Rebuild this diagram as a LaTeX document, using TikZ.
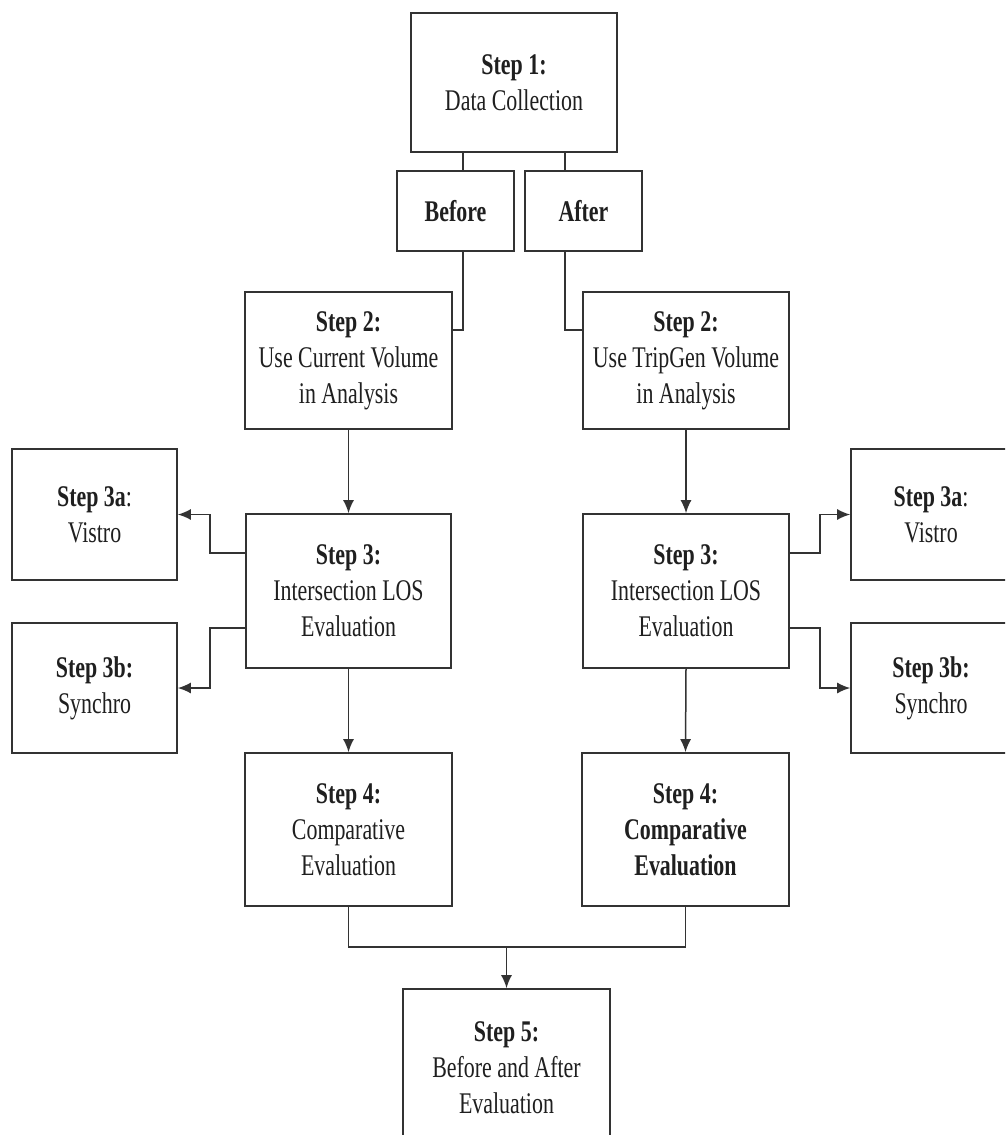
\documentclass[tikz,border=0pt]{standalone}
\usepackage{fontspec}
\setmainfont{Liberation Serif}[FakeStretch=0.73]
\usetikzlibrary{arrows.meta}
\begin{document}
\begin{tikzpicture}[x=1pt,y=-1pt,
  stepbox/.style={draw=black!80, line width=1.7pt, fill=white, inner sep=0pt,
    align=center, text=black!88, font=\fontsize{30}{36}\selectfont},
  conn/.style={draw=black!80, line width=1.5pt},
  arr/.style={conn, -{Latex[length=13pt,width=11pt]}}]
\useasboundingbox (0,0) rectangle (1005,1135);
\clip (0,0) rectangle (1005,1135);
% helper coordinates
\coordinate (xl) at (463,0);
\coordinate (xr) at (565,0);
\coordinate (yk) at (0,330);
\coordinate (jl) at (210,0);
\coordinate (jr) at (820,0);
\coordinate (ya) at (0,553);
\coordinate (yb) at (0,628);
\coordinate (ym) at (0,947);
% nodes
\node[stepbox, minimum width=206pt, minimum height=139pt] (s1) at (514,82.5) {\textbf{Step 1:}\\Data Collection};
\node[stepbox, minimum width=117pt, minimum height=80pt] (before) at (455.5,211) {\textbf{Before}};
\node[stepbox, minimum width=117pt, minimum height=80pt] (after) at (583.5,211) {\textbf{After}};
\node[stepbox, minimum width=207pt, minimum height=137pt] (s2L) at (348.5,360.5) {\textbf{Step 2:}\\Use Current Volume\\in Analysis};
\node[stepbox, minimum width=206pt, minimum height=137pt] (s2R) at (686,360.5) {\textbf{Step 2:}\\Use TripGen Volume\\in Analysis};
\node[stepbox, minimum width=205pt, minimum height=154pt] (s3L) at (348.5,591) {\textbf{Step 3:}\\Intersection LOS\\Evaluation};
\node[stepbox, minimum width=206pt, minimum height=154pt] (s3R) at (686,591) {\textbf{Step 3:}\\Intersection LOS\\Evaluation};
\node[stepbox, minimum width=165pt, minimum height=131pt] (s3aL) at (94.5,514.5) {\textbf{Step 3a}:\\Vistro};
\node[stepbox, minimum width=165pt, minimum height=130pt] (s3bL) at (94.5,688) {\textbf{Step 3b:}\\Synchro};
\node[stepbox, minimum width=160pt, minimum height=131pt] (s3aR) at (931,514.5) {\textbf{Step 3a}:\\Vistro};
\node[stepbox, minimum width=160pt, minimum height=130pt] (s3bR) at (931,688) {\textbf{Step 3b:}\\Synchro};
\node[stepbox, minimum width=207pt, minimum height=153pt] (s4L) at (348.5,829.5) {\textbf{Step 4:}\\Comparative\\Evaluation};
\node[stepbox, minimum width=207pt, minimum height=153pt] (s4R) at (685.5,829.5) {\textbf{Step 4:}\\\textbf{Comparative}\\\textbf{Evaluation}};
\node[stepbox, minimum width=207pt, minimum height=158pt] (s5) at (506.5,1068) {\textbf{Step 5:}\\Before and After\\Evaluation};
% connectors
\draw[conn] (s1.south -| xl) -- (before.north -| xl);
\draw[conn] (s1.south -| xr) -- (after.north -| xr);
\draw[conn] (before.south -| xl) |- (s2L.east |- yk);
\draw[conn] (after.south -| xr) |- (s2R.west |- yk);
\draw[arr] (s2L.south) -- (s3L.north);
\draw[arr] (s2R.south) -- (s3R.north);
\draw[arr] (s3L.west |- ya) -| (jl |- s3aL.east) -- (s3aL.east);
\draw[arr] (s3L.west |- yb) -| (jl |- s3bL.east) -- (s3bL.east);
\draw[arr] (s3R.east |- ya) -| (jr |- s3aR.west) -- (s3aR.west);
\draw[arr] (s3R.east |- yb) -| (jr |- s3bR.west) -- (s3bR.west);
\draw[arr] (s3L.south) -- (s4L.north);
\draw[arr] (s3R.south) -- (s4R.north);
\draw[conn] (s4L.south) |- (s4R.south |- ym) -- (s4R.south);
\draw[arr] (s5.north |- ym) -- (s5.north);
\end{tikzpicture}
\end{document}
